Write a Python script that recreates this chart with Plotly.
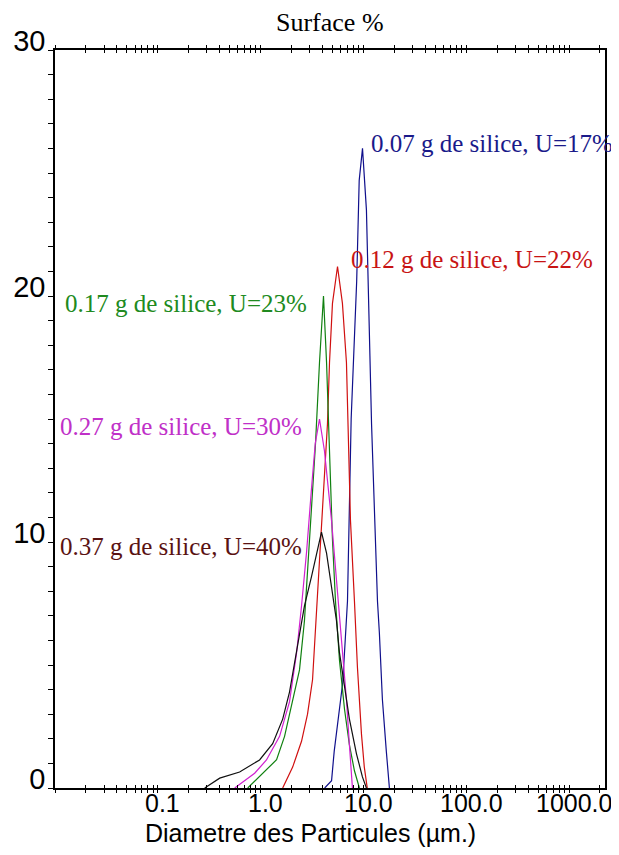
import math
import plotly.graph_objects as go

# Diamètres (µm) et surface (%) lus sur chaque courbe
d_007 = [4.2, 4.9, 5.2, 5.9, 6.3, 7.0, 7.6, 8.6, 9.1, 9.8, 10.7, 12.0, 13.7, 14.3, 15.3, 16.7, 17.9]
s_007 = [0.0, 0.3, 1.5, 3.2, 4.3, 7.6, 15.0, 20.6, 24.7, 26.0, 23.5, 14.8, 7.6, 6.3, 3.6, 1.5, 0.0]

d_012 = [1.64, 2.05, 2.50, 2.86, 3.20, 3.50, 4.0, 4.47, 4.68, 5.0, 5.6, 6.25, 6.84, 7.48, 8.18, 8.75, 9.57, 10.2, 10.9]
s_012 = [0.0, 0.85, 1.9, 3.0, 4.4, 7.2, 10.9, 14.8, 17.3, 19.7, 21.2, 19.7, 17.3, 10.9, 7.6, 4.9, 2.2, 0.85, 0.0]

d_017 = [0.75, 1.04, 1.43, 1.71, 2.05, 2.39, 2.67, 2.86, 3.13, 3.42, 3.74, 4.09, 4.38, 4.57, 4.79, 5.0, 5.35, 5.85, 6.55, 7.31, 8.18, 9.14]
s_017 = [0.0, 0.6, 1.15, 2.1, 3.5, 4.8, 6.8, 8.9, 11.6, 14.0, 17.3, 20.0, 17.3, 14.8, 12.5, 10.1, 7.6, 5.2, 3.2, 1.75, 0.7, 0.0]

d_027 = [0.56, 0.875, 1.14, 1.53, 1.91, 2.24, 2.50, 2.80, 3.13, 3.40, 3.74, 4.18, 4.89, 5.47, 5.85, 6.40, 6.84, 7.31, 7.82]
s_027 = [0.0, 0.6, 1.14, 2.1, 3.5, 5.5, 7.4, 9.6, 12.2, 14.0, 15.0, 13.7, 10.9, 8.5, 7.2, 5.2, 3.6, 1.75, 0.0]

d_037 = [0.286, 0.40, 0.625, 0.977, 1.31, 1.64, 1.91, 2.14, 2.39, 2.67, 3.13, 3.50, 3.91, 4.38, 4.89, 5.47, 5.85, 6.55, 7.31, 8.55, 9.78, 10.7]
s_037 = [0.0, 0.4, 0.65, 1.14, 1.8, 2.8, 3.9, 5.1, 6.2, 7.4, 8.6, 9.55, 10.4, 9.55, 8.2, 6.8, 5.5, 4.1, 2.8, 1.4, 0.45, 0.0]

noms = ["0.07 g de silice, U=17%", "0.12 g de silice, U=22%", "0.17 g de silice, U=23%",
        "0.27 g de silice, U=30%", "0.37 g de silice, U=40%"]

# graduations
decades = [0.01, 0.1, 1, 10, 100, 1000]
labels_x = {0.1: "0.1", 1: "1.0", 10: "10.0", 100: "100.0", 1000: "1000.0"}
y_ticks = list(range(0, 31))
y_labels = {0: "0", 10: "10", 20: "20", 30: "30"}

courbes = [
    (d_007, s_007, "#10108c", "#1a1a8a"),
    (d_012, s_012, "#d01010", "#c81414"),
    (d_017, s_017, "#108010", "#208a20"),
    (d_027, s_027, "#d020d0", "#c030c8"),
    (d_037, s_037, "#101010", "#5a1212"),
]
# position des étiquettes (log10 du diamètre, surface)
pos_labels = [(1.05, 26.2), (0.855, 21.5), (-1.92, 19.7), (-1.97, 14.7), (-1.97, 9.8)]

fig = go.Figure()
for (d, s, c, _), nom in zip(courbes, noms):
    fig.add_trace(go.Scatter(x=d, y=s, mode="lines", name=nom,
                             line=dict(color=c, width=1.2), showlegend=False))

x_vals = []
for dec in decades:
    for m in range(1, 10):
        v = round(dec * m, 6)
        if v > 2200:
            break
        x_vals.append(v)

# la page ajoute 8 px de marge autour de la figure
fig.update_layout(
    width=611, height=847,
    margin=dict(l=47, r=14, t=42, b=67),
    paper_bgcolor="white", plot_bgcolor="white",
    font=dict(family="Liberation Sans", color="black"),
    xaxis=dict(type="log", range=[-2, 3.35], tickmode="array", tickvals=x_vals,
               ticktext=[""] * len(x_vals), ticks="inside", ticklen=3, tickcolor="black",
               showline=True, linecolor="black", linewidth=1.5, mirror="allticks",
               showgrid=False, zeroline=False, automargin=False),
    xaxis2=dict(type="log", range=[-2, 3.35], overlaying="x", anchor="y",
                tickmode="array", tickvals=x_vals, ticktext=[""] * len(x_vals),
                ticks="outside", ticklen=4, tickcolor="black", mirror="allticks",
                showgrid=False, zeroline=False, showline=False, automargin=False),
    yaxis=dict(range=[0, 30], tickmode="array", tickvals=y_ticks,
               ticktext=[y_labels.get(v, "") for v in y_ticks],
               ticks="outside", ticklen=5, tickcolor="black",
               showline=True, linecolor="black", linewidth=1.5, mirror=True,
               showgrid=False, zeroline=False, ticklabelshift=-9, ticklabelstandoff=-3,
               automargin=False, ticklabeloverflow="allow",
               tickfont=dict(size=29, family="Liberation Sans")),
)
fig.add_trace(go.Scatter(x=[1], y=[0], xaxis="x2", mode="markers",
                         marker=dict(opacity=0), showlegend=False, hoverinfo="skip"))

# étiquettes de l'axe des diamètres, légèrement décalées à droite comme l'original
for v, txt in labels_x.items():
    fig.add_annotation(x=math.log10(v), y=0, xref="x", yref="paper", text=txt,
                       showarrow=False, xanchor="center", yanchor="middle",
                       xshift=5, yshift=-15,
                       font=dict(family="Liberation Sans", size=25))

for (_, _, _, lc), nom, (lx, ly) in zip(courbes, noms, pos_labels):
    fig.add_annotation(x=lx, y=ly, xref="x", yref="y", text=nom, showarrow=False,
                       xanchor="left", yanchor="middle",
                       font=dict(family="Liberation Serif", size=25, color=lc))

fig.add_annotation(x=0.5, y=1, xref="paper", yref="paper", yshift=28, yanchor="middle",
                   text="Surface %", showarrow=False,
                   font=dict(family="Liberation Serif", size=26))
fig.add_annotation(x=0.465, y=0, xref="paper", yref="paper", yshift=-45, yanchor="middle",
                   text="Diametre des Particules (µm.)", showarrow=False,
                   font=dict(family="Liberation Sans", size=25))

fig.write_html("out.html")
